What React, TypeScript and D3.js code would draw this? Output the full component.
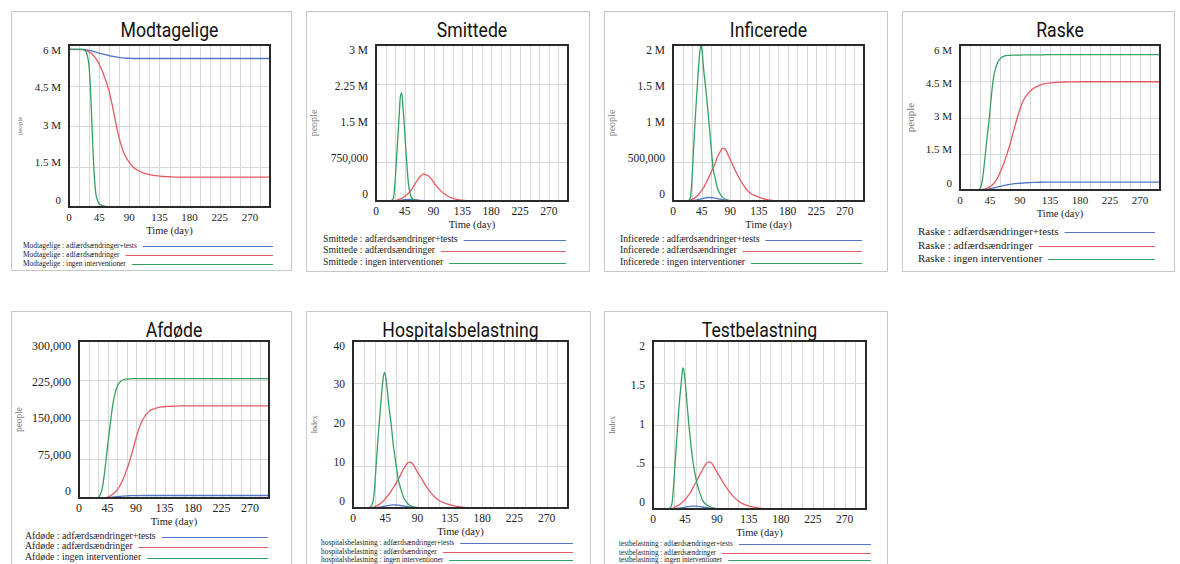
import React, { useRef, useEffect } from "react";
import * as d3 from "d3";

// sample days (x values shared by every series)
const days = [0, 20, 24, 27, 30, 32, 34, 36, 38, 40, 42, 44, 46, 48, 50, 53, 56, 60, 63, 66, 70, 74, 78, 82, 86, 90, 95, 100, 110, 120, 130, 140, 150, 160, 180, 300];
const xTicks = [0, 45, 90, 135, 180, 225, 270];
const scenarios = ["adfærdsændringer+tests", "adfærdsændringer", "ingen interventioner"];
const colors = ["#5276c4", "#e55a62", "#35a064"];

// Modtagelige (millions)
const modtageligeTests = [5.84, 5.84, 5.83, 5.82, 5.8, 5.79, 5.78, 5.77, 5.75, 5.74, 5.72, 5.71, 5.69, 5.68, 5.67, 5.65, 5.63, 5.61, 5.59, 5.58, 5.56, 5.54, 5.53, 5.52, 5.51, 5.51, 5.5, 5.5, 5.5, 5.5, 5.5, 5.5, 5.5, 5.5, 5.5, 5.5];
const modtageligeAdf = [5.84, 5.83, 5.81, 5.78, 5.74, 5.71, 5.67, 5.62, 5.57, 5.5, 5.42, 5.34, 5.24, 5.13, 5.02, 4.82, 4.6, 4.27, 3.95, 3.6, 3.1, 2.65, 2.28, 2.0, 1.8, 1.65, 1.5, 1.4, 1.27, 1.2, 1.16, 1.13, 1.12, 1.11, 1.11, 1.11];
const modtageligeIngen = [5.84, 5.84, 5.8, 5.64, 5.2, 4.4, 3.2, 2.0, 1.05, 0.5, 0.28, 0.16, 0.1, 0.07, 0.05, 0.03, 0.01, 0.005, 0, 0, 0, 0, 0, 0, 0, 0, 0, 0, 0, 0, 0, 0, 0, 0, 0, 0];

// Smittede (millions)
const smittedeTests = [0, 0, 0.001, 0.002, 0.004, 0.006, 0.009, 0.012, 0.015, 0.018, 0.021, 0.024, 0.026, 0.028, 0.029, 0.029, 0.028, 0.025, 0.022, 0.018, 0.013, 0.009, 0.006, 0.004, 0.002, 0.001, 0, 0, 0, 0, 0, 0, 0, 0, 0, 0];
const smittedeAdf = [0, 0, 0.002, 0.005, 0.01, 0.015, 0.02, 0.03, 0.04, 0.05, 0.065, 0.08, 0.1, 0.12, 0.14, 0.18, 0.23, 0.31, 0.37, 0.42, 0.48, 0.52, 0.505, 0.48, 0.43, 0.36, 0.28, 0.21, 0.11, 0.05, 0.02, 0.008, 0.002, 0, 0, 0];
const smittedeIngen = [0, 0, 0.01, 0.05, 0.4, 0.8, 1.2, 1.6, 2.0, 2.08, 1.82, 1.5, 1.1, 0.75, 0.42, 0.15, 0.06, 0.02, 0.01, 0, 0, 0, 0, 0, 0, 0, 0, 0, 0, 0, 0, 0, 0, 0, 0, 0];

// Inficerede (millions)
const inficeredeTests = [0, 0, 0.001, 0.002, 0.004, 0.006, 0.008, 0.011, 0.014, 0.018, 0.022, 0.026, 0.03, 0.034, 0.038, 0.042, 0.045, 0.044, 0.041, 0.037, 0.03, 0.023, 0.017, 0.012, 0.008, 0.005, 0.003, 0.001, 0, 0, 0, 0, 0, 0, 0, 0];
const inficeredeAdf = [0, 0, 0.003, 0.008, 0.02, 0.03, 0.04, 0.05, 0.065, 0.08, 0.1, 0.125, 0.15, 0.17, 0.2, 0.25, 0.3, 0.37, 0.42, 0.48, 0.57, 0.63, 0.675, 0.665, 0.6, 0.53, 0.44, 0.355, 0.21, 0.11, 0.065, 0.035, 0.015, 0.005, 0, 0];
const inficeredeIngen = [0, 0, 0.005, 0.03, 0.3, 0.62, 0.92, 1.2, 1.45, 1.7, 1.9, 2.0, 1.9, 1.7, 1.55, 1.32, 1.05, 0.68, 0.42, 0.3, 0.16, 0.09, 0.05, 0.025, 0.012, 0.005, 0, 0, 0, 0, 0, 0, 0, 0, 0, 0];

// Raske (millions)
const raskeTests = [0, 0, 0, 0, 0.002, 0.005, 0.01, 0.015, 0.02, 0.03, 0.04, 0.05, 0.06, 0.07, 0.085, 0.1, 0.12, 0.15, 0.17, 0.19, 0.21, 0.23, 0.245, 0.26, 0.27, 0.28, 0.29, 0.3, 0.315, 0.32, 0.325, 0.33, 0.33, 0.33, 0.33, 0.33];
const raskeAdf = [0, 0, 0, 0.002, 0.01, 0.02, 0.03, 0.04, 0.055, 0.07, 0.09, 0.12, 0.16, 0.2, 0.25, 0.35, 0.48, 0.72, 0.92, 1.12, 1.45, 1.8, 2.2, 2.6, 3.0, 3.35, 3.7, 3.93, 4.2, 4.34, 4.41, 4.44, 4.46, 4.47, 4.48, 4.48];
const raskeIngen = [0, 0, 0, 0.005, 0.05, 0.2, 0.5, 0.95, 1.5, 2.0, 2.5, 3.0, 3.6, 4.15, 4.6, 5.0, 5.25, 5.42, 5.5, 5.54, 5.56, 5.57, 5.58, 5.58, 5.58, 5.58, 5.59, 5.59, 5.59, 5.59, 5.6, 5.6, 5.6, 5.6, 5.6, 5.6];

// Afdøde (thousands)
const afdoedeTests = [0, 0, 0, 0, 0, 0, 0, 0.1, 0.2, 0.3, 0.45, 0.6, 0.8, 1.0, 1.3, 1.7, 2.1, 2.6, 3.0, 3.3, 3.7, 4.0, 4.2, 4.4, 4.5, 4.6, 4.7, 4.75, 4.8, 4.8, 4.8, 4.8, 4.8, 4.8, 4.8, 4.8];
const afdoedeAdf = [0, 0, 0, 0, 0, 0, 0, 0, 0, 0, 0.3, 1, 2, 3, 4.5, 7, 10, 15, 20, 27, 37, 50, 63, 79, 96, 114, 134, 148, 165, 171, 174, 175, 175.5, 176, 176, 176];
const afdoedeIngen = [0, 0, 0, 0, 0.5, 3, 8, 15, 28, 45, 65, 88, 108, 128, 148, 175, 195, 212, 219, 223, 226, 227, 227.5, 228, 228, 228, 228, 228, 228, 228, 228, 228, 228, 228, 228, 228];

// Hospitalsbelastning (index)
const hospTests = [0, 0, 0.02, 0.03, 0.06, 0.1, 0.13, 0.18, 0.23, 0.29, 0.36, 0.42, 0.49, 0.55, 0.62, 0.68, 0.73, 0.72, 0.67, 0.6, 0.49, 0.38, 0.28, 0.2, 0.13, 0.08, 0.05, 0.02, 0, 0, 0, 0, 0, 0, 0, 0];
const hospAdf = [0, 0, 0.05, 0.12, 0.3, 0.45, 0.6, 0.8, 1.05, 1.3, 1.6, 2.0, 2.4, 2.8, 3.2, 4.0, 4.8, 5.9, 6.8, 7.8, 9.2, 10.3, 11.0, 10.8, 9.8, 8.6, 7.2, 5.8, 3.4, 1.8, 1.05, 0.55, 0.25, 0.08, 0, 0];
const hospIngen = [0, 0.05, 0.2, 1, 4.5, 9.5, 14.5, 19, 23.5, 27.5, 31, 32.5, 31, 28, 24.5, 20.5, 15.5, 10.5, 7, 5, 2.8, 1.5, 0.8, 0.4, 0.2, 0.08, 0, 0, 0, 0, 0, 0, 0, 0, 0, 0];

// Testbelastning (index)
const testTests = [0, 0, 0.001, 0.002, 0.003, 0.005, 0.007, 0.009, 0.011, 0.014, 0.017, 0.02, 0.023, 0.026, 0.029, 0.032, 0.035, 0.034, 0.032, 0.029, 0.024, 0.018, 0.013, 0.009, 0.006, 0.004, 0.002, 0.001, 0, 0, 0, 0, 0, 0, 0, 0];
const testAdf = [0, 0, 0.003, 0.006, 0.015, 0.025, 0.035, 0.045, 0.055, 0.07, 0.085, 0.1, 0.12, 0.14, 0.165, 0.2, 0.25, 0.31, 0.36, 0.41, 0.47, 0.53, 0.56, 0.55, 0.5, 0.44, 0.37, 0.3, 0.18, 0.095, 0.05, 0.025, 0.01, 0.003, 0, 0];
const testIngen = [0, 0, 0.01, 0.08, 0.4, 0.65, 0.9, 1.15, 1.35, 1.52, 1.68, 1.62, 1.45, 1.25, 1.05, 0.8, 0.58, 0.38, 0.27, 0.19, 0.1, 0.06, 0.035, 0.02, 0.01, 0.004, 0, 0, 0, 0, 0, 0, 0, 0, 0, 0];

// y ticks
const ticksM6 = [0, 1.5, 3, 4.5, 6];
const labelsM6 = ["0", "1.5 M", "3 M", "4.5 M", "6 M"];
const ticksM3 = [0, 0.75, 1.5, 2.25, 3];
const labelsM3 = ["0", "750,000", "1.5 M", "2.25 M", "3 M"];
const ticksM2 = [0, 0.5, 1, 1.5, 2];
const labelsM2 = ["0", "500,000", "1 M", "1.5 M", "2 M"];
const ticksK300 = [0, 75, 150, 225, 300];
const labelsK300 = ["0", "75,000", "150,000", "225,000", "300,000"];
const ticks40 = [0, 10, 20, 30, 40];
const labels40 = ["0", "10", "20", "30", "40"];
const ticks2 = [0, 0.5, 1, 1.5, 2];
const labels2 = ["0", ".5", "1", "1.5", "2"];

const panels = [
  { title: "Modtagelige", name: "Modtagelige", yTitle: "people", series: [modtageligeTests, modtageligeAdf, modtageligeIngen], ticks: ticksM6, labels: labelsM6,
    frame: [11, 11, 280, 259], plot: [69, 45, 270, 207], tick: 11, yt: 7, leg: { size: 7.4, x: 23, ys: [246, 255, 264], end: 273 } },
  { title: "Smittede", name: "Smittede", yTitle: "people", series: [smittedeTests, smittedeAdf, smittedeIngen], ticks: ticksM3, labels: labelsM3,
    frame: [306, 11, 283, 260], plot: [376, 45, 568, 201], tick: 11.5, yt: 10, leg: { size: 9.7, x: 323, ys: [240, 251, 263], end: 566 } },
  { title: "Inficerede", name: "Inficerede", yTitle: "people", series: [inficeredeTests, inficeredeAdf, inficeredeIngen], ticks: ticksM2, labels: labelsM2,
    frame: [604, 11, 283, 260], plot: [673, 45, 864, 201], tick: 11.5, yt: 10, leg: { size: 9.7, x: 620, ys: [240, 251, 263], end: 862 } },
  { title: "Raske", name: "Raske", yTitle: "people", series: [raskeTests, raskeAdf, raskeIngen], ticks: ticksM6, labels: labelsM6,
    frame: [902, 11, 272, 260], plot: [960, 45, 1160, 190], tick: 11, yt: 11, leg: { size: 11, x: 918, ys: [232, 246, 259], end: 1155 } },
  { title: "Afdøde", name: "Afdøde", yTitle: "people", series: [afdoedeTests, afdoedeAdf, afdoedeIngen], ticks: ticksK300, labels: labelsK300,
    frame: [11, 311, 280, 270], plot: [79, 341, 269, 498], tick: 12, yt: 9.4, leg: { size: 9.8, x: 25, ys: [537, 547, 558], end: 268 } },
  { title: "Hospitalsbelastning", name: "hospitalsbelastning", yTitle: "Index", series: [hospTests, hospAdf, hospIngen], ticks: ticks40, labels: labels40,
    frame: [306, 311, 284, 270], plot: [353, 341, 568, 508], tick: 11.5, yt: 8, leg: { size: 7.4, x: 321, ys: [543, 552, 560], end: 573 } },
  { title: "Testbelastning", name: "testbelastning", yTitle: "Index", series: [testTests, testAdf, testIngen], ticks: ticks2, labels: labels2,
    frame: [604, 311, 283, 270], plot: [653, 341, 866, 509], tick: 11.5, yt: 8, leg: { size: 7.2, x: 619, ys: [544, 553, 560], end: 871 } },
];

const serif = "'Liberation Serif', 'Times New Roman', serif";
const titleFont = "Roboto, 'DejaVu Sans', sans-serif";

const App = () => {
  const ref = useRef<SVGSVGElement>(null);

  useEffect(() => {
    const svg = d3.select(ref.current);
    svg.selectAll("*").remove();
    const defs = svg.append("defs");

    panels.forEach((p, pi) => {
      const [fx, fy, fw, fh] = p.frame;
      const [l, t, r, b] = p.plot;
      const g = svg.append("g");

      g.append("rect").attr("x", fx + 0.5).attr("y", fy + 0.5).attr("width", fw).attr("height", fh)
        .attr("fill", "#fff").attr("stroke", "#c8c8c8");

      const x = d3.scaleLinear().domain([0, 300]).range([l, r]);
      const yMax = p.ticks[p.ticks.length - 1];
      const y = d3.scaleLinear().domain([0, yMax]).range([b, t]);
      const yLab = y.copy().range([b - 6, t + 6]); // labels sit slightly inside

      // grid
      g.selectAll(null).data(d3.range(15, 300, 15)).join("line")
        .attr("x1", (d) => Math.round(x(d)) + 0.5).attr("x2", (d) => Math.round(x(d)) + 0.5)
        .attr("y1", t).attr("y2", b).attr("stroke", "#d8d8d8").attr("stroke-width", 1);
      g.selectAll(null).data(p.ticks).join("line")
        .attr("x1", l).attr("x2", r)
        .attr("y1", (d) => Math.round(y(d)) + 0.5).attr("y2", (d) => Math.round(y(d)) + 0.5)
        .attr("stroke", "#d8d8d8").attr("stroke-width", 1);

      defs.append("clipPath").attr("id", `clip${pi}`).append("rect")
        .attr("x", l).attr("y", t - 1).attr("width", r - l).attr("height", b - t + 2);

      const line = d3.line<number>()
        .x((_, i) => x(days[i]))
        .y((d) => y(d))
        .curve(d3.curveMonotoneX);

      p.series.forEach((s, si) => {
        g.append("path").attr("d", line(s)).attr("fill", "none")
          .attr("stroke", colors[si]).attr("stroke-width", 1.3)
          .attr("clip-path", `url(#clip${pi})`);
      });

      g.append("rect").attr("x", l).attr("y", t).attr("width", r - l).attr("height", b - t)
        .attr("fill", "none").attr("stroke", "#2a2a2a").attr("stroke-width", 2);

      // title, narrowed to mimic the condensed face
      const cx = (l + r) / 2;
      g.append("text").attr("transform", `translate(${cx},${fy + 26}) scale(0.84,1)`)
        .attr("text-anchor", "middle")
        .attr("font-family", titleFont).attr("font-size", 21).attr("fill", "#111").text(p.title);

      // y tick labels
      g.selectAll(null).data(p.ticks).join("text")
        .attr("x", l - 8).attr("y", (d) => yLab(d)).attr("text-anchor", "end")
        .attr("dominant-baseline", "middle").attr("font-family", serif)
        .attr("font-size", p.tick).attr("fill", "#222")
        .text((_, i) => p.labels[i]);

      // x tick labels
      g.selectAll(null).data(xTicks).join("text")
        .attr("x", (d) => x(d)).attr("y", b + 11).attr("text-anchor", "middle")
        .attr("dominant-baseline", "middle").attr("font-family", serif)
        .attr("font-size", p.tick).attr("fill", "#222").text((d) => String(d));

      g.append("text").attr("x", cx).attr("y", b + 25).attr("text-anchor", "middle")
        .attr("dominant-baseline", "middle").attr("font-family", serif)
        .attr("font-size", 10.5).attr("fill", "#222").text("Time (day)");

      // y title
      g.append("text").attr("transform", `translate(${fx + 9},${(t + b) / 2}) rotate(-90)`)
        .attr("text-anchor", "middle").attr("dominant-baseline", "middle")
        .attr("font-family", serif).attr("font-size", p.yt).attr("fill", "#777").text(p.yTitle);

      // legend
      scenarios.forEach((sc, si) => {
        const ly = p.leg.ys[si];
        const txt = g.append("text").attr("x", p.leg.x).attr("y", ly)
          .attr("dominant-baseline", "middle").attr("font-family", serif)
          .attr("font-size", p.leg.size).attr("fill", "#222").text(`${p.name} : ${sc}`);
        const w = (txt.node() as SVGTextElement).getComputedTextLength();
        g.append("line").attr("x1", p.leg.x + w + 6).attr("x2", p.leg.end)
          .attr("y1", ly + 0.5).attr("y2", ly + 0.5)
          .attr("stroke", colors[si]).attr("stroke-width", 1);
      });
    });
  }, []);

  return (
    <svg
      ref={ref}
      width={1180}
      height={564}
      style={{ position: "absolute", left: 0, top: 0, background: "#fff" }}
    ></svg>
  );
};

export default App;
